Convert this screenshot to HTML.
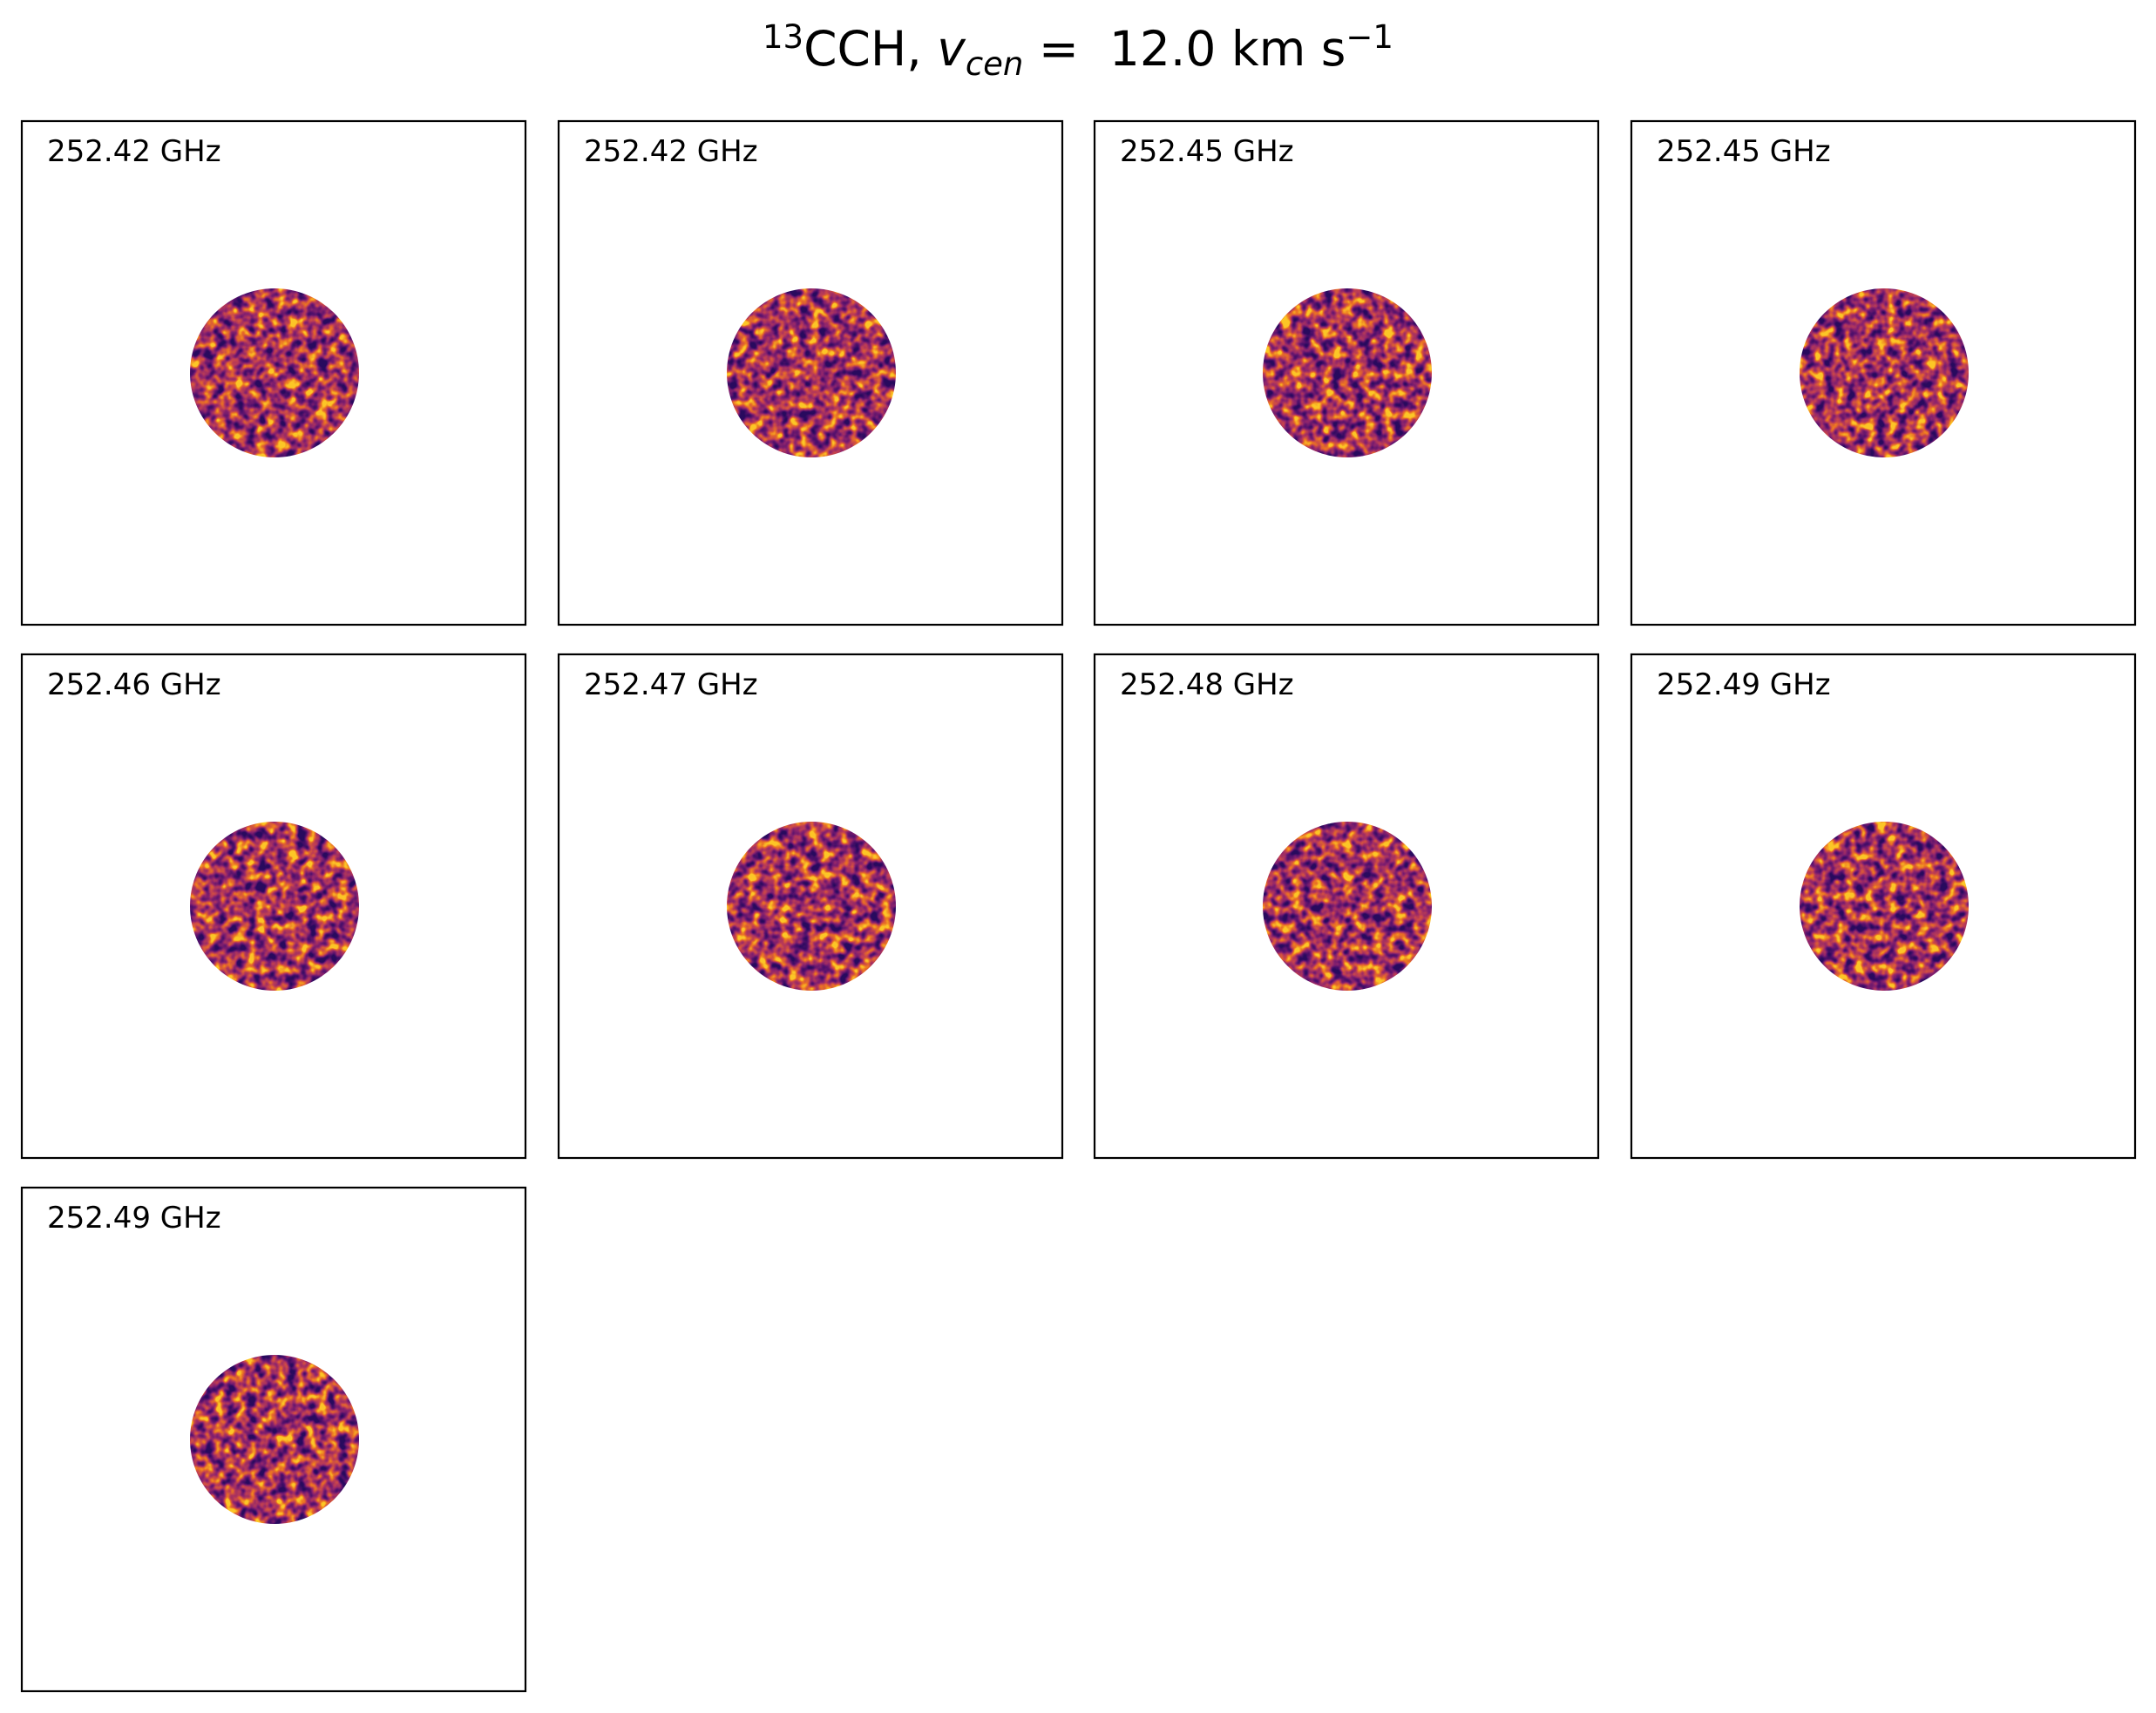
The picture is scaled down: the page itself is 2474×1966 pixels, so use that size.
<!DOCTYPE html>
<html><head><meta charset="utf-8"><style>
body{margin:0;background:#fff;}
svg{display:block;}
text{font-family:"DejaVu Sans","Liberation Sans",sans-serif;white-space:pre;}
</style></head><body>
<svg id="fig" width="2474" height="1966" viewBox="0 0 2474 1966" xmlns="http://www.w3.org/2000/svg">
<defs>
<filter id="inferno" x="0" y="0" width="100%" height="100%" color-interpolation-filters="sRGB">
<feTurbulence id="turb" type="fractalNoise" baseFrequency="0.085" numOctaves="2" seed="1" result="n"/>
<feColorMatrix type="matrix" values="1 0 0 0 0  1 0 0 0 0  1 0 0 0 0  0 0 0 0 1"/>
<feComponentTransfer><feFuncR type="linear" slope="2.1" intercept="-0.55"/><feFuncG type="linear" slope="2.1" intercept="-0.55"/><feFuncB type="linear" slope="2.1" intercept="-0.55"/></feComponentTransfer>
<feComponentTransfer>
<feFuncR type="table" tableValues="0.16 0.34 0.55 0.76 0.92 0.99"/>
<feFuncG type="table" tableValues="0.04 0.07 0.14 0.25 0.45 0.78"/>
<feFuncB type="table" tableValues="0.37 0.43 0.43 0.32 0.14 0.15"/>
</feComponentTransfer>
</filter>
</defs>
<text x="1237" y="75" font-size="55" text-anchor="middle"><tspan font-size="37" dy="-20">13</tspan><tspan dy="20">CCH, </tspan><tspan font-style="italic">v</tspan><tspan font-style="italic" font-size="37" dy="11">cen</tspan><tspan dy="-11"> =  12.0 km s</tspan><tspan font-size="37" dy="-20">−1</tspan></text>
<g id="panels"></g>
</svg>
<script>
const labels = ["252.42 GHz","252.42 GHz","252.45 GHz","252.45 GHz","252.46 GHz","252.47 GHz","252.48 GHz","252.49 GHz","252.49 GHz"];
const seeds = [1,2,3,4,5,6,7,8,9];
const NS="http://www.w3.org/2000/svg";
const g=document.getElementById('panels');
const defs=document.querySelector('defs');
const colX=[25,641,1256,1872], rowY=[139,751,1363], S=578, R=97;
labels.forEach((lab,i)=>{
  const x=colX[i%4], y=rowY[Math.floor(i/4)];
  const f=document.getElementById('inferno').cloneNode(true);
  f.id='inf'+i; f.querySelector('feTurbulence').setAttribute('seed',seeds[i]);
  defs.appendChild(f);
  const cp=document.createElementNS(NS,'clipPath'); cp.id='cp'+i;
  const cc=document.createElementNS(NS,'circle');
  cc.setAttribute('cx',x+S/2+1);cc.setAttribute('cy',y+S/2);cc.setAttribute('r',R);
  cp.appendChild(cc); defs.appendChild(cp);
  const pg=document.createElementNS(NS,'g');
  
  
  const img=document.createElementNS(NS,'rect');
  
  
  img.setAttribute('x',x+S/2+1-R);img.setAttribute('y',y+S/2-R);
  img.setAttribute('width',2*R);img.setAttribute('height',2*R);
  img.setAttribute('filter','url(#inf'+i+')');img.setAttribute('clip-path','url(#cp'+i+')');
  pg.appendChild(img);
  const fr=document.createElementNS(NS,'rect');
  
  
  fr.setAttribute('x',x);fr.setAttribute('y',y);fr.setAttribute('width',S);fr.setAttribute('height',S);
  fr.setAttribute('fill','none');fr.setAttribute('stroke','#000');fr.setAttribute('stroke-width','2.2');
  pg.appendChild(fr);
  const t=document.createElementNS(NS,'text');
  
  
  t.setAttribute('x',x+29);t.setAttribute('y',y+46);t.setAttribute('font-size','34');
  t.textContent=lab; pg.appendChild(t);
  g.appendChild(pg);
});
</script>
</body></html>
